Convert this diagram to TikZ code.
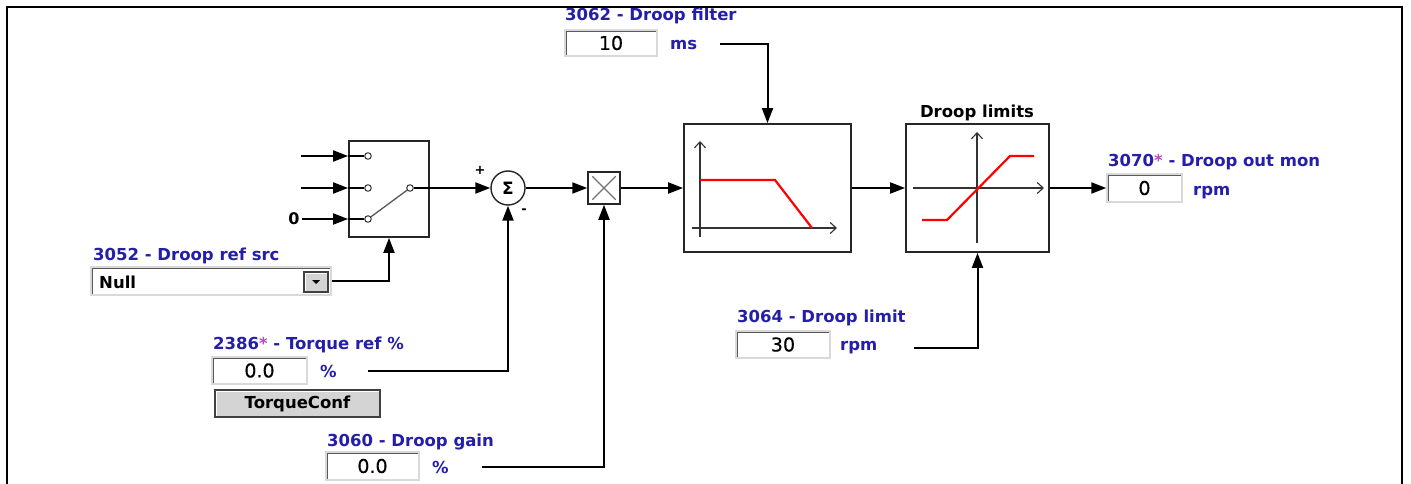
\documentclass[tikz,border=0pt]{standalone}
\usepackage{fontspec}
\setmainfont{DejaVu Sans}
\newfontface\valfont[FakeBold=0.5]{DejaVu Sans}
\usetikzlibrary{arrows.meta}
\definecolor{lblblue}{RGB}{36,30,168}
\definecolor{starpink}{RGB}{190,70,200}
\definecolor{btngray}{RGB}{212,212,212}
\newcommand{\lblf}{\fontsize{16.5}{18}\selectfont\bfseries}
\newcommand{\valf}{\valfont\fontsize{19}{21}\selectfont}
\newcommand{\st}{\textcolor{starpink}{*}}
\begin{document}
\begin{tikzpicture}[x=1pt,y=-1pt,
  arr/.style={line width=2pt,-{Triangle[length=15pt,width=11pt]}},
  blk/.style={draw=black!85,line width=1.8pt,fill=white,inner sep=0pt},
  lbl/.style={anchor=base west,text=lblblue,font=\lblf,inner sep=0pt},
  unit/.style={anchor=base west,text=lblblue,font=\lblf,inner sep=0pt},
  valbox/.style={draw=black!15,line width=1.5pt,fill=white,inner sep=0pt,font=\valf,
    path picture={\draw[line width=3.5pt,black!65]
      (path picture bounding box.south west) -- (path picture bounding box.north west)
      -- (path picture bounding box.north east);}},
  btn/.style={draw=black!75,line width=1.5pt,fill=btngray,inner sep=0pt,font=\lblf,
    path picture={\draw[line width=3pt,white]
      (path picture bounding box.south west) -- (path picture bounding box.north west)
      -- (path picture bounding box.north east);}},
  pin/.style={circle,draw=black!80,line width=1pt,fill=white,minimum size=6.5pt,inner sep=0pt},
  axis/.style={black!80,line width=1.1pt},
  axarr/.style={axis,-{Straight Barb[length=6pt,width=11pt]}},
  redl/.style={red,line width=2.2pt}
]
\useasboundingbox (0,0) rectangle (1411,484);
\fill[white] (0,0) rectangle (1411,484);

% ---------- selector switch ----------
\node[blk,minimum width=80pt,minimum height=96pt] (sw) at (389,189) {};
\coordinate (in1) at (301,156);
\coordinate (in2) at (301,188);
\coordinate (in3) at (302,219);
\node[font=\fontsize{16}{18}\selectfont\bfseries,inner sep=0pt] (zero) at (294,219) {0};
\node[pin] (p1) at (368,156) {};
\node[pin] (p2) at (368,188) {};
\node[pin] (p3) at (368,219) {};
\node[pin] (po) at (410,188) {};
\draw[arr] (in1) -- (in1 -| sw.west);
\draw[arr] (in2) -- (in2 -| sw.west);
\draw[arr] (in3) -- (in3 -| sw.west);
\draw[line width=1.1pt] (in1 -| sw.west) -- (p1.west);
\draw[line width=1.1pt] (in2 -| sw.west) -- (p2.west);
\draw[line width=1.1pt] (in3 -| sw.west) -- (p3.west);
\draw[black!65,line width=1.3pt] (p3) -- (po);

% ---------- summation ----------
\node[circle,draw=black!85,line width=1.4pt,fill=white,minimum size=34pt,inner sep=0pt,
  font=\fontsize{17}{18}\selectfont\bfseries] (sum) at (508,188) {Σ};
\node[font=\fontsize{13}{14}\selectfont\bfseries,inner sep=0pt] (plus) at (480,170) {+};
\node[font=\fontsize{13}{14}\selectfont\bfseries,inner sep=0pt] (minus) at (524,211) {-};
\draw[arr] (po.east) -- (sum.west);

% ---------- multiplier ----------
\node[blk,line width=1.5pt,minimum width=32pt,minimum height=32pt] (mul) at (604,188) {};
\draw[black!55,line width=1.1pt] ([shift={(5,-5)}]mul.south west) -- ([shift={(-5,5)}]mul.north east);
\draw[black!55,line width=1.1pt] ([shift={(5,5)}]mul.north west) -- ([shift={(-5,-5)}]mul.south east);
\draw[arr] (sum.east) -- (mul.west);

% ---------- filter block ----------
\node[blk,minimum width=167pt,minimum height=128pt] (filt) at (767.5,188) {};
\draw[axarr] (700,237) -- (700,141);
\draw[axarr] (692,228) -- (837,228);
\draw[redl] (700,180) -- (775,180) -- (812,228);
\draw[arr] (mul.east) -- (filt.west);

% ---------- limits block ----------
\node[blk,minimum width=143pt,minimum height=128pt] (lim) at (977.5,188) {};
\node[anchor=base,font=\lblf,inner sep=0pt] (limt) at (977,118) {Droop limits};
\draw[axarr] (977,243) -- (977,132);
\draw[axarr] (913,188) -- (1044,188);
\draw[redl] (922,220) -- (947,220) -- (1010,156) -- (1034,156);
\draw[arr] (filt.east) -- (lim.west);

% ---------- output ----------
\node[lbl] (outl) at (1108,167) {3070\st{} - Droop out mon};
\node[valbox,minimum width=75pt,minimum height=28pt] (outv) at (1144.5,188) {0};
\node[unit] (outu) at (1193,195) {rpm};
\draw[arr] (lim.east) -- (outv.west);

% ---------- droop filter parameter ----------
\node[lbl] (fl) at (565,21) {3062 - Droop filter};
\node[valbox,minimum width=92pt,minimum height=26pt] (fv) at (611,43) {10};
\node[unit] (fu) at (670,50) {ms};
\coordinate (fs) at (720,44);
\draw[arr] (fs) -| (filt.north);

% ---------- droop limit parameter ----------
\node[lbl] (ll) at (737,322) {3064 - Droop limit};
\node[valbox,minimum width=94pt,minimum height=27pt] (lv) at (783,344.5) {30};
\node[unit] (lu) at (840,350) {rpm};
\coordinate (ls) at (914,348);
\draw[arr] (ls) -| (lim.south);

% ---------- droop ref src ----------
\node[lbl] (dl) at (93,260) {3052 - Droop ref src};
\node[valbox,minimum width=240pt,minimum height=28pt] (dd) at (211,281) {};
\node[anchor=west,font=\fontsize{16.5}{18}\selectfont\bfseries,inner sep=0pt] (ddt) at (99,282) {Null};
\node[btn,line width=1.2pt,minimum width=24pt,minimum height=20pt] (ddb) at (316,282) {};
\fill[black] ([shift={(-4,-2)}]ddb.center) -- ([shift={(4,-2)}]ddb.center) -- ([shift={(0,2)}]ddb.center) -- cycle;
\draw[arr] (dd.east) -| (sw.south);

% ---------- torque ref ----------
\node[lbl] (tl) at (213,349) {2386\st{} - Torque ref \%};
\node[valbox,minimum width=95pt,minimum height=27pt] (tv) at (259.5,370.5) {0.0};
\node[unit] (tu) at (320,377) {\%};
\node[btn,minimum width=165pt,minimum height=27pt] (tb) at (297.5,403.5) {TorqueConf};
\coordinate (ts) at (368,371);
\draw[arr] (ts) -| (sum.south);

% ---------- droop gain ----------
\node[lbl] (gl) at (327,446) {3060 - Droop gain};
\node[valbox,minimum width=93pt,minimum height=28pt] (gv) at (372.5,466) {0.0};
\node[unit] (gu) at (432,473) {\%};
\coordinate (gs) at (482,467);
\draw[arr] (gs) -| (mul.south);

% ---------- frame ----------
\draw[line width=2.4pt,black] (7,490) -- (7,7) -- (1402,7) -- (1402,490);
\end{tikzpicture}
\end{document}
